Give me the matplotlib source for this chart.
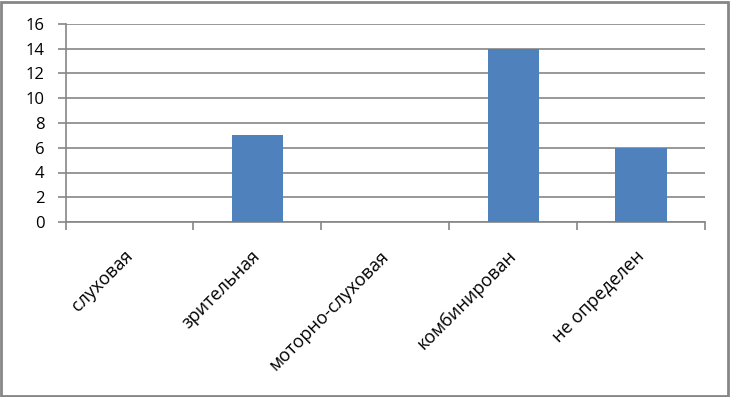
import matplotlib.pyplot as plt
from matplotlib.patches import Rectangle

categories = ['слуховая', 'зрительная', 'моторно-слуховая', 'комбинирован', 'не определен']
values = [0, 7, 0, 14, 6]
y_ticks = [0, 2, 4, 6, 8, 10, 12, 14, 16]

W, H = 730, 397
fig = plt.figure(figsize=(W / 100, H / 100), dpi=100)
plt.rcParams['font.family'] = ['Open Sans', 'DejaVu Sans']

# plot area in pixels: x 65.5..705, y 24..222
ax = fig.add_axes([65.5 / W, 1 - 222 / H, (705 - 65.5) / W, (222 - 24) / H])

grid_col = '#868686'
x = list(range(len(categories)))
ax.bar(x, values, width=0.4, color='#4F81BD', zorder=3)

ax.set_xlim(-0.5, len(categories) - 0.5)
ax.set_ylim(0, 16)
ax.set_yticks(y_ticks)
ax.set_yticklabels([str(v) for v in y_ticks], fontsize=12)
ax.yaxis.grid(True, color=grid_col, linewidth=1.2, zorder=0)

for s in ['top', 'right']:
    ax.spines[s].set_visible(False)
for s in ['left', 'bottom']:
    ax.spines[s].set_color(grid_col)
    ax.spines[s].set_linewidth(1.2)

ax.tick_params(axis='y', length=6, width=1.2, color=grid_col, pad=9)
ax.set_xticks([i - 0.5 for i in range(len(categories) + 1)])
ax.set_xticklabels([])
ax.tick_params(axis='x', length=6, width=1.2, color=grid_col)

for i, name in enumerate(categories):
    ax.annotate(name, xy=(i, 0), xycoords='data', xytext=(-6, -25),
                textcoords='offset pixels', rotation=45, ha='right', va='top',
                rotation_mode='anchor', fontsize=13)

fig.patches.append(Rectangle((1 / W, 1 / H), (W - 3) / W, (H - 3) / H,
                             transform=fig.transFigure, fill=False,
                             edgecolor=grid_col, linewidth=2))

fig.savefig('out.png', dpi=100)
